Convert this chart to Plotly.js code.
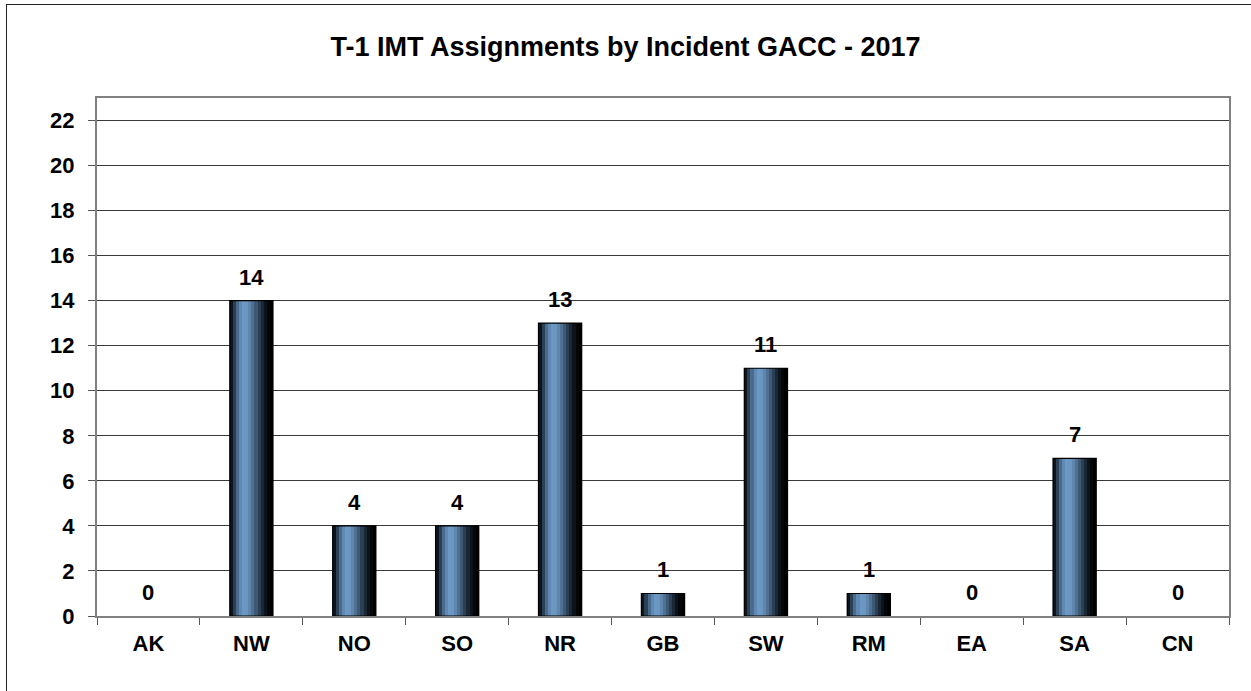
<!DOCTYPE html>
<html>
<head>
<meta charset="utf-8">
<script src="https://cdn.plot.ly/plotly-3.0.1.min.js"></script>
<style>
  html, body { margin: 0; padding: 0; overflow: hidden; background: #fff; }
  #wrap { position: relative; width: 1251px; height: 691px; overflow: hidden; }
  #chart { width: 1251px; height: 691px; }
  #frame { position: absolute; left: 6px; top: 4px; width: 1300px; height: 800px;
           border: 1.5px solid #222; pointer-events: none; }
</style>
</head>
<body>
<div id="wrap">
  <div id="chart"></div>
  <div id="frame"></div>
</div>
<script>
const categories = ["AK", "NW", "NO", "SO", "NR", "GB", "SW", "RM", "EA", "SA", "CN"];
const assignments = [0, 14, 4, 4, 13, 1, 11, 1, 0, 7, 0];
const yTicks = [0, 2, 4, 6, 8, 10, 12, 14, 16, 18, 20, 22];

const FONT = "Arial, 'Liberation Sans', sans-serif";
const barWidth = 0.42;
// horizontal shading stops, left -> right, to mimic the gradient fill
const shades = ["#0d141b", "#2b3f55", "#4a6b8e", "#5f88b2", "#6b98c4", "#6a96c0",
                "#5f87ae", "#4f7193", "#3d5974", "#2b4055", "#1a2735", "#0c131a",
                "#040608", "#000000"];

const traces = [];
const n = shades.length;
shades.forEach((c, i) => {
  traces.push({
    type: "bar",
    x: categories,
    y: assignments,
    width: barWidth / n + 0.002,
    offset: -barWidth / 2 + i * barWidth / n,
    marker: { color: c, line: { width: 0 } },
    hoverinfo: "skip",
    showlegend: false
  });
});
// outline
traces.push({
  type: "bar",
  x: categories,
  y: assignments,
  width: barWidth,
  offset: -barWidth / 2,
  marker: {
    color: "rgba(0,0,0,0)",
    line: { color: "#000", width: assignments.map(v => (v > 0 ? 1.2 : 0)) }
  },
  hoverinfo: "skip",
  showlegend: false
});

const annotations = categories.map((c, i) => ({
  x: c,
  y: assignments[i],
  xref: "x",
  yref: "y",
  text: String(assignments[i]),
  showarrow: false,
  yanchor: "bottom",
  yshift: 9,
  font: { family: FONT, size: 22, color: "#000", weight: "bold" }
}));

const layout = {
  width: 1251,
  height: 691,
  margin: { l: 97, r: 22, t: 98, b: 75 },
  paper_bgcolor: "#fff",
  plot_bgcolor: "#fff",
  barmode: "overlay",
  title: {
    text: "T-1 IMT Assignments by Incident GACC - 2017",
    font: { family: FONT, size: 27, color: "#000", weight: "bold" },
    x: 0.5, xanchor: "center", y: 0.932, yanchor: "middle"
  },
  annotations: annotations,
  xaxis: {
    type: "category",
    tickson: "boundaries",
    ticks: "outside",
    ticklen: 7,
    tickcolor: "#555",
    tickwidth: 1,
    ticklabelstandoff: 7,
    showline: true,
    linecolor: "#808080",
    linewidth: 2,
    mirror: true,
    showgrid: false,
    tickfont: { family: FONT, size: 22, color: "#000", weight: "bold" },
    fixedrange: true
  },
  yaxis: {
    range: [0, 23],
    tickvals: yTicks,
    ticktext: yTicks.map(String),
    ticks: "outside",
    ticklen: 7,
    tickcolor: "#555",
    tickwidth: 1,
    ticklabelstandoff: 9,
    showline: true,
    linecolor: "#808080",
    linewidth: 2,
    mirror: true,
    showgrid: true,
    gridcolor: "#3a3a3a",
    gridwidth: 1,
    zeroline: false,
    tickfont: { family: FONT, size: 22, color: "#000", weight: "bold" },
    fixedrange: true
  },
  bargap: 0,
  font: { family: FONT }
};

Plotly.newPlot("chart", traces, layout, { displayModeBar: false, staticPlot: true });
</script>
</body>
</html>
